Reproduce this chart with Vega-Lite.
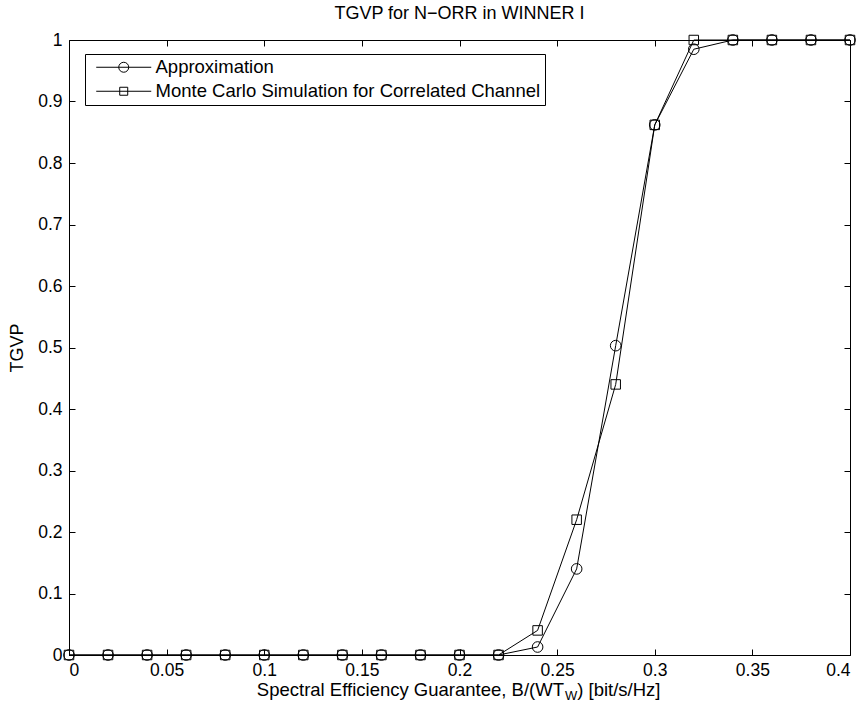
{
  "$schema": "https://vega.github.io/schema/vega-lite/v6.json",
  "width": 781,
  "height": 615,
  "autosize": {"type": "none"},
  "padding": {"left": 69, "top": 40, "right": 14, "bottom": 48},
  "background": "white",
  "title": {
    "text": "TGVP for N−ORR in WINNER I",
    "font": "Liberation Sans",
    "fontSize": 18,
    "fontWeight": "normal",
    "color": "black",
    "offset": 8
  },
  "config": {
    "font": "Liberation Sans",
    "view": {"stroke": "black", "strokeWidth": 1},
    "axis": {
      "grid": false,
      "domain": false,
      "ticks": true,
      "tickColor": "black",
      "tickSize": -6,
      "labelColor": "black",
      "labelFont": "Liberation Sans",
      "labelFontSize": 17.5,
      "titleFont": "Liberation Sans",
      "titleFontSize": 18,
      "titleFontWeight": "normal",
      "titleColor": "black"
    }
  },
  "datasets": {
    "tgvp": [
      {"x": 0.00, "series": "Approximation", "y": 0},
      {"x": 0.02, "series": "Approximation", "y": 0},
      {"x": 0.04, "series": "Approximation", "y": 0},
      {"x": 0.06, "series": "Approximation", "y": 0},
      {"x": 0.08, "series": "Approximation", "y": 0},
      {"x": 0.10, "series": "Approximation", "y": 0},
      {"x": 0.12, "series": "Approximation", "y": 0},
      {"x": 0.14, "series": "Approximation", "y": 0},
      {"x": 0.16, "series": "Approximation", "y": 0},
      {"x": 0.18, "series": "Approximation", "y": 0},
      {"x": 0.20, "series": "Approximation", "y": 0},
      {"x": 0.22, "series": "Approximation", "y": 0},
      {"x": 0.24, "series": "Approximation", "y": 0.013},
      {"x": 0.26, "series": "Approximation", "y": 0.14},
      {"x": 0.28, "series": "Approximation", "y": 0.503},
      {"x": 0.30, "series": "Approximation", "y": 0.862},
      {"x": 0.32, "series": "Approximation", "y": 0.985},
      {"x": 0.34, "series": "Approximation", "y": 1},
      {"x": 0.36, "series": "Approximation", "y": 1},
      {"x": 0.38, "series": "Approximation", "y": 1},
      {"x": 0.40, "series": "Approximation", "y": 1},
      {"x": 0.00, "series": "Monte Carlo Simulation for Correlated Channel", "y": 0},
      {"x": 0.02, "series": "Monte Carlo Simulation for Correlated Channel", "y": 0},
      {"x": 0.04, "series": "Monte Carlo Simulation for Correlated Channel", "y": 0},
      {"x": 0.06, "series": "Monte Carlo Simulation for Correlated Channel", "y": 0},
      {"x": 0.08, "series": "Monte Carlo Simulation for Correlated Channel", "y": 0},
      {"x": 0.10, "series": "Monte Carlo Simulation for Correlated Channel", "y": 0},
      {"x": 0.12, "series": "Monte Carlo Simulation for Correlated Channel", "y": 0},
      {"x": 0.14, "series": "Monte Carlo Simulation for Correlated Channel", "y": 0},
      {"x": 0.16, "series": "Monte Carlo Simulation for Correlated Channel", "y": 0},
      {"x": 0.18, "series": "Monte Carlo Simulation for Correlated Channel", "y": 0},
      {"x": 0.20, "series": "Monte Carlo Simulation for Correlated Channel", "y": 0},
      {"x": 0.22, "series": "Monte Carlo Simulation for Correlated Channel", "y": 0},
      {"x": 0.24, "series": "Monte Carlo Simulation for Correlated Channel", "y": 0.04},
      {"x": 0.26, "series": "Monte Carlo Simulation for Correlated Channel", "y": 0.22},
      {"x": 0.28, "series": "Monte Carlo Simulation for Correlated Channel", "y": 0.44},
      {"x": 0.30, "series": "Monte Carlo Simulation for Correlated Channel", "y": 0.862},
      {"x": 0.32, "series": "Monte Carlo Simulation for Correlated Channel", "y": 1},
      {"x": 0.34, "series": "Monte Carlo Simulation for Correlated Channel", "y": 1},
      {"x": 0.36, "series": "Monte Carlo Simulation for Correlated Channel", "y": 1},
      {"x": 0.38, "series": "Monte Carlo Simulation for Correlated Channel", "y": 1},
      {"x": 0.40, "series": "Monte Carlo Simulation for Correlated Channel", "y": 1}
    ]
  },
  "resolve": {"axis": {"x": "independent", "y": "independent"}},
  "layer": [
    {
      "data": {"name": "tgvp"},
      "mark": {"type": "line", "color": "black", "strokeWidth": 1},
      "encoding": {
        "x": {
          "field": "x", "type": "quantitative",
          "scale": {"domain": [0, 0.4], "nice": false, "zero": false},
          "axis": {
            "orient": "bottom", "title": null, "format": "~g",
            "values": [0, 0.05, 0.1, 0.15, 0.2, 0.25, 0.3, 0.35, 0.4],
            "labelPadding": 12
          }
        },
        "y": {
          "field": "y", "type": "quantitative",
          "scale": {"domain": [0, 1], "nice": false, "zero": false},
          "axis": {
            "orient": "left", "title": "TGVP", "format": "~g",
            "values": [0, 0.1, 0.2, 0.3, 0.4, 0.5, 0.6, 0.7, 0.8, 0.9, 1],
            "labelPadding": 13, "titlePadding": 11
          }
        },
        "detail": {"field": "series", "type": "nominal"}
      }
    },
    {
      "data": {"name": "tgvp"},
      "transform": [{"filter": "datum.series === 'Approximation'"}],
      "mark": {"type": "point", "shape": "circle", "filled": false, "size": 113, "color": "black", "strokeWidth": 1, "opacity": 1},
      "encoding": {
        "x": {
          "field": "x", "type": "quantitative",
          "scale": {"domain": [0, 0.4], "nice": false, "zero": false},
          "axis": {
            "orient": "top", "title": null, "labels": false,
            "values": [0, 0.05, 0.1, 0.15, 0.2, 0.25, 0.3, 0.35, 0.4]
          }
        },
        "y": {
          "field": "y", "type": "quantitative",
          "scale": {"domain": [0, 1], "nice": false, "zero": false},
          "axis": {
            "orient": "right", "title": null, "labels": false,
            "values": [0, 0.1, 0.2, 0.3, 0.4, 0.5, 0.6, 0.7, 0.8, 0.9, 1]
          }
        }
      }
    },
    {
      "data": {"name": "tgvp"},
      "transform": [{"filter": "datum.series !== 'Approximation'"}],
      "mark": {"type": "point", "shape": "square", "filled": false, "size": 90, "color": "black", "strokeWidth": 1, "opacity": 1},
      "encoding": {
        "x": {"field": "x", "type": "quantitative", "scale": {"domain": [0, 0.4], "nice": false, "zero": false}, "axis": null},
        "y": {"field": "y", "type": "quantitative", "scale": {"domain": [0, 1], "nice": false, "zero": false}, "axis": null}
      }
    },
    {
      "data": {"values": []},
      "mark": {"type": "point", "filled": false, "color": "black", "strokeWidth": 1, "opacity": 1},
      "encoding": {
        "x": {"field": "x", "type": "quantitative", "scale": {"domain": [0, 0.4], "nice": false, "zero": false}, "axis": null},
        "y": {"field": "y", "type": "quantitative", "scale": {"domain": [0, 1], "nice": false, "zero": false}, "axis": null},
        "shape": {
          "field": "series", "type": "nominal",
          "scale": {
            "domain": ["Approximation", "Monte Carlo Simulation for Correlated Channel"],
            "range": [
              "M-0.29,0L7.57,0M2.926,0A0.714,0.714 0 1,0 4.354,0A0.714,0.714 0 1,0 2.926,0",
              "M-0.29,0L7.57,0M3.069,-0.571L4.211,-0.571L4.211,0.571L3.069,0.571Z"
            ]
          },
          "legend": {
            "title": null,
            "orient": "none",
            "legendX": 16,
            "legendY": 14,
            "strokeColor": "black",
            "fillColor": "white",
            "padding": 4,
            "labelFont": "Liberation Sans",
            "labelFontSize": 18.5,
            "labelColor": "black",
            "labelLimit": 0,
            "labelOffset": 48,
            "rowPadding": 5,
            "symbolSize": 196,
            "symbolStrokeColor": "black",
            "symbolFillColor": "transparent",
            "symbolStrokeWidth": 1
          }
        }
      }
    },
    {
      "data": {"values": [{}]},
      "mark": {"type": "text", "align": "right", "baseline": "alphabetic", "font": "Liberation Sans", "fontSize": 18.5, "color": "black"},
      "encoding": {
        "x": {"datum": 0.2535, "type": "quantitative", "scale": {"domain": [0, 0.4], "nice": false, "zero": false}, "axis": null},
        "y": {"datum": -0.0659, "type": "quantitative", "scale": {"domain": [0, 1], "nice": false, "zero": false}, "axis": null},
        "text": {"value": "Spectral Efficiency Guarantee, B/(WT"}
      }
    },
    {
      "data": {"values": [{}]},
      "mark": {"type": "text", "align": "left", "baseline": "alphabetic", "font": "Liberation Sans", "fontSize": 13, "color": "black", "dx": 1, "dy": 4},
      "encoding": {
        "x": {"datum": 0.2535, "type": "quantitative", "scale": {"domain": [0, 0.4], "nice": false, "zero": false}, "axis": null},
        "y": {"datum": -0.0659, "type": "quantitative", "scale": {"domain": [0, 1], "nice": false, "zero": false}, "axis": null},
        "text": {"value": "W"}
      }
    },
    {
      "data": {"values": [{}]},
      "mark": {"type": "text", "align": "left", "baseline": "alphabetic", "font": "Liberation Sans", "fontSize": 18.5, "color": "black"},
      "encoding": {
        "x": {"datum": 0.2603, "type": "quantitative", "scale": {"domain": [0, 0.4], "nice": false, "zero": false}, "axis": null},
        "y": {"datum": -0.0659, "type": "quantitative", "scale": {"domain": [0, 1], "nice": false, "zero": false}, "axis": null},
        "text": {"value": ") [bit/s/Hz]"}
      }
    }
  ]
}
